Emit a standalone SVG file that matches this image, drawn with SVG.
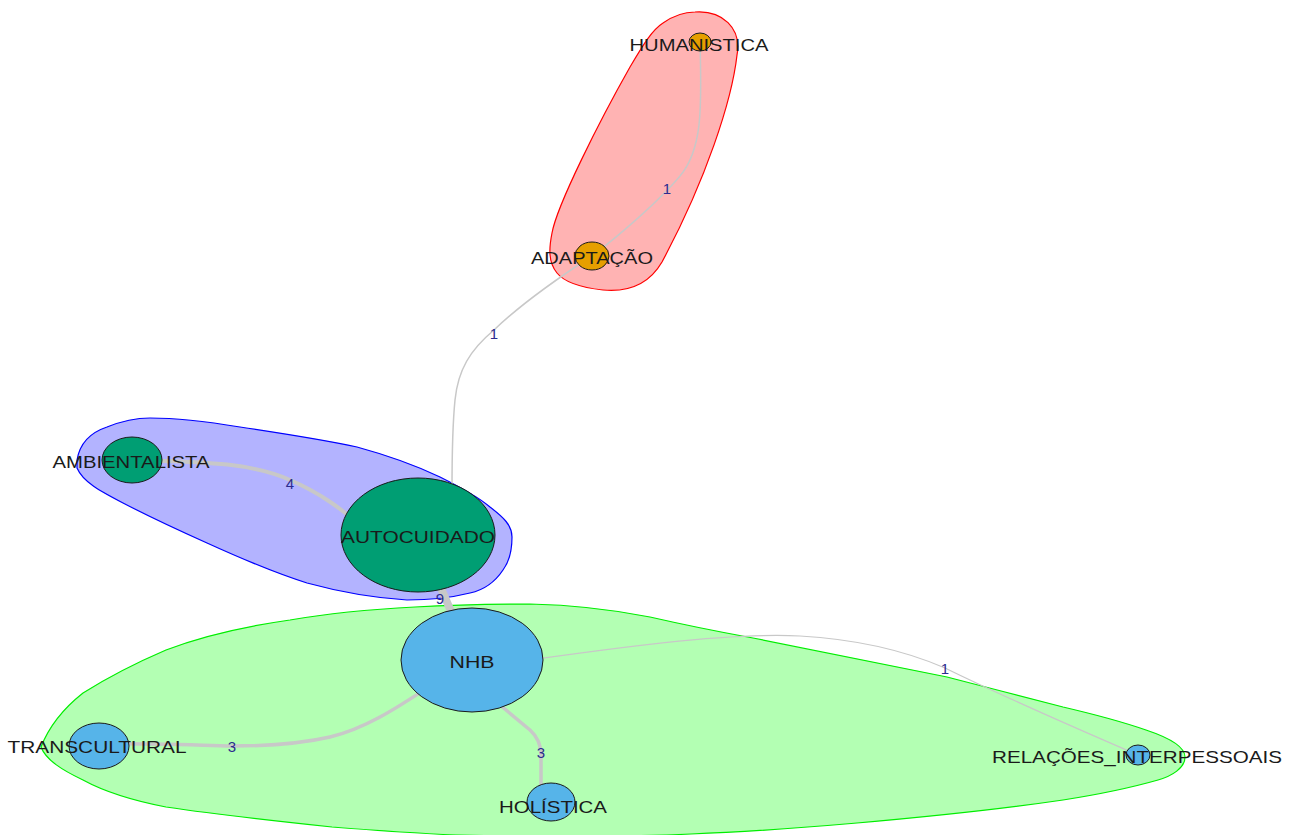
<svg xmlns="http://www.w3.org/2000/svg" width="1291" height="835" viewBox="0 0 1291 835">
<style>
.lbl{font-family:"Liberation Sans",Arial,sans-serif;font-size:17px;fill:#1a1a1a;text-anchor:middle}
.el{font-family:"Liberation Sans",Arial,sans-serif;font-size:15px;fill:#2b2b8f;text-anchor:middle}
.edge{fill:none;stroke:#c8c8c8;stroke-linecap:round;stroke-linejoin:round}
.node{stroke:#1a1a1a;stroke-width:1}
.orange{fill:#e69f00}.green{fill:#009e73}.blue{fill:#56b4e9}
</style>
<rect width="1291" height="835" fill="#ffffff"/>
<g id="hulls">
<path id="hull-red" d="M695,12 C722,10 742,28 737,55 C732,100 706,180 662,262 C648,286 625,292 603,290 C585,288 565,283 557,273 C548,262 549,248 552,233 C557,205 600,120 630,67 C643,45 652,30 663,23 C673,16 684,12 695,12 Z" fill="#ffb3b3" stroke="#ff0000" stroke-width="1.2"/>
<path id="hull-blue" d="M77,460 C80,442 92,432 107,427 C122,421 135,418 150,418 C180,418 210,422 240,427 C280,433 320,439 357,447 C390,456 415,465 440,477 C460,487 477,496 490,507 C503,517 512,525 512,537 C512,552 509,562 503,570 C495,582 484,590 470,593 C450,598 428,600 407,600 C375,598 340,592 307,583 C272,572 240,558 207,543 C178,530 150,517 123,503 C100,491 83,482 77,468 Z" fill="#b3b3ff" stroke="#0000ff" stroke-width="1.2"/>
<path id="hull-green" d="M41,747 C50,724 64,708 83,693 C110,676 138,662 166,650 C205,635 248,626 290,620 C330,613 375,609 415,607 C450,605 490,604 530,604 C575,605 615,610 650,617 C685,625 720,632 753,638 C820,652 885,664 947,677 C985,687 1025,697 1063,707 C1093,714 1120,721 1146,730 C1170,738 1185,747 1185,757 C1185,768 1172,776 1158,780 C1130,788 1095,795 1063,800 C995,810 925,817 857,823 C800,828 745,832 691,834 C620,837 540,837 456,835 C410,833 370,830 332,827 C275,821 220,815 166,807 C135,801 105,792 83,780 C62,770 46,760 41,747 Z" fill="#b3ffb3" stroke="#00ee00" stroke-width="1.2"/>
</g>
<g id="edges">
<path class="edge" stroke-width="1.5" d="M700,43 C702,110 702,150 680,176 C660,200 620,235 592,256"/>
<path class="edge" stroke-width="1.5" d="M592,256 C555,280 520,305 494,330 C470,350 458,370 455,400 C452,430 452,460 452,490"/>
<path class="edge" stroke-width="4" d="M132,460 C200,462 250,462 290,480 C320,493 340,508 360,525"/>
<path class="edge" stroke-width="8" d="M418,535 L472,660"/>
<path class="edge" stroke-width="3.5" d="M472,660 C420,690 380,725 330,737 C295,745 260,746 232,746 C190,745 140,743 99,744"/>
<path class="edge" stroke-width="3.5" d="M472,660 L500,705 L530,730 Q541,740 541,755 L541,802"/>
<path class="edge" stroke-width="1.2" d="M472,668 C600,650 720,632 800,636 C870,640 915,655 945,668 C1000,695 1080,730 1138,755"/>
<text class="el" x="667" y="194">1</text>
<text class="el" x="494" y="339">1</text>
<text class="el" x="290" y="489">4</text>
<text class="el" x="440" y="604">9</text>
<text class="el" x="232" y="752">3</text>
<text class="el" x="541" y="758">3</text>
<text class="el" x="945" y="674">1</text>
</g>
<g id="node-humanistica">
<ellipse class="node orange" cx="700" cy="42" rx="11" ry="9"/>
<text class="lbl" x="699" y="51" textLength="139" lengthAdjust="spacingAndGlyphs">HUMANISTICA</text>
</g>
<g id="node-adaptacao">
<ellipse class="node orange" cx="592" cy="256" rx="17" ry="14"/>
<text class="lbl" x="592" y="264" textLength="122" lengthAdjust="spacingAndGlyphs">ADAPTAÇÃO</text>
</g>
<g id="node-ambientalista">
<ellipse class="node green" cx="132" cy="460" rx="30" ry="23"/>
<text class="lbl" x="131" y="468" textLength="157" lengthAdjust="spacingAndGlyphs">AMBIENTALISTA</text>
</g>
<g id="node-autocuidado">
<ellipse class="node green" cx="418" cy="535" rx="77" ry="57"/>
<text class="lbl" x="418" y="543" textLength="154" lengthAdjust="spacingAndGlyphs">AUTOCUIDADO</text>
</g>
<g id="node-nhb">
<ellipse class="node blue" cx="472" cy="660" rx="71" ry="52"/>
<text class="lbl" x="472" y="668" textLength="45" lengthAdjust="spacingAndGlyphs">NHB</text>
</g>
<g id="node-transcultural">
<ellipse class="node blue" cx="99" cy="746" rx="30" ry="23"/>
<text class="lbl" x="97" y="753" textLength="179" lengthAdjust="spacingAndGlyphs">TRANSCULTURAL</text>
</g>
<g id="node-holistica">
<ellipse class="node blue" cx="551" cy="802" rx="24" ry="19"/>
<text class="lbl" x="553" y="813" textLength="108" lengthAdjust="spacingAndGlyphs">HOLÍSTICA</text>
</g>
<g id="node-relacoes">
<ellipse class="node blue" cx="1138" cy="755" rx="12" ry="10"/>
<text class="lbl" x="1137" y="763" textLength="290" lengthAdjust="spacingAndGlyphs">RELAÇÕES_INTERPESSOAIS</text>
</g>
</svg>
